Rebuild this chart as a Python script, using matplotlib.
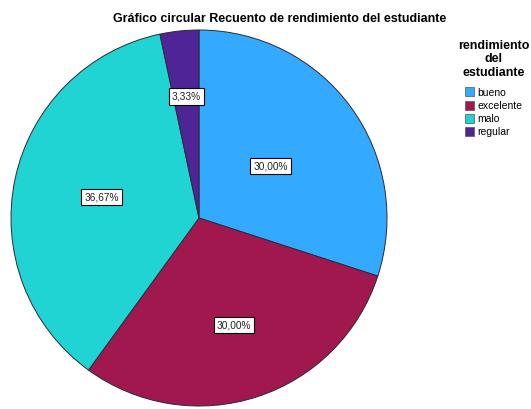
import numpy as np
import matplotlib
matplotlib.use("Agg")
import matplotlib.pyplot as plt
from matplotlib.patches import Patch

# Data
categorias = ["bueno", "excelente", "malo", "regular"]
porcentajes = [30.00, 30.00, 36.67, 3.33]
etiquetas = ["30,00%", "30,00%", "36,67%", "3,33%"]
colores = ["#33aaff", "#a1184f", "#20d4d4", "#4f2495"]
radio_etiqueta = [0.47, 0.60, 0.53, 0.65]

plt.rcParams['font.family'] = ['Liberation Sans', 'DejaVu Sans']

W, H = 531, 409
fig = plt.figure(figsize=(W / 100, H / 100), dpi=100)

# pie centre (199, 218) px, radius 188 px
cx, cy, r = 199, 218, 188
ax = fig.add_axes([(cx - r) / W, (H - cy - r) / H, 2 * r / W, 2 * r / H])
wedges, _ = ax.pie(porcentajes, colors=colores, startangle=90, counterclock=False,
                   wedgeprops=dict(edgecolor='#2a2a3a', linewidth=0.7))
ax.set_xlim(-1, 1)
ax.set_ylim(-1, 1)
ax.set_aspect('equal')

for w, lab, rr in zip(wedges, etiquetas, radio_etiqueta):
    ang = np.deg2rad((w.theta1 + w.theta2) / 2)
    ax.text(rr * np.cos(ang), rr * np.sin(ang), lab, ha='center', va='center',
            fontsize=7.3, color='#222222',
            bbox=dict(boxstyle='square,pad=0.3', facecolor='white',
                      edgecolor='black', linewidth=0.8))

fig.text(280 / W, 1 - 19.5 / H, "Gráfico circular Recuento de rendimiento del estudiante",
         ha='center', va='center', fontsize=9, fontweight='bold')

handles = [Patch(facecolor=c, edgecolor='#555555', linewidth=0.5) for c in colores]
leg = fig.legend(handles, categorias, loc='upper left',
                 bbox_to_anchor=(456 / W, 1 - 38 / H), frameon=False,
                 title="rendimiento\ndel\nestudiante", fontsize=7.5,
                 title_fontproperties={'weight': 'bold', 'size': 9},
                 handlelength=0.9, handleheight=0.95, handletextpad=0.3,
                 labelspacing=0.3, borderpad=0.2, borderaxespad=0)
leg.get_title().set_multialignment('center')
leg.get_title().set_linespacing(1.15)
leg._legend_box.sep += 4

fig.savefig("out.png", dpi=100)
